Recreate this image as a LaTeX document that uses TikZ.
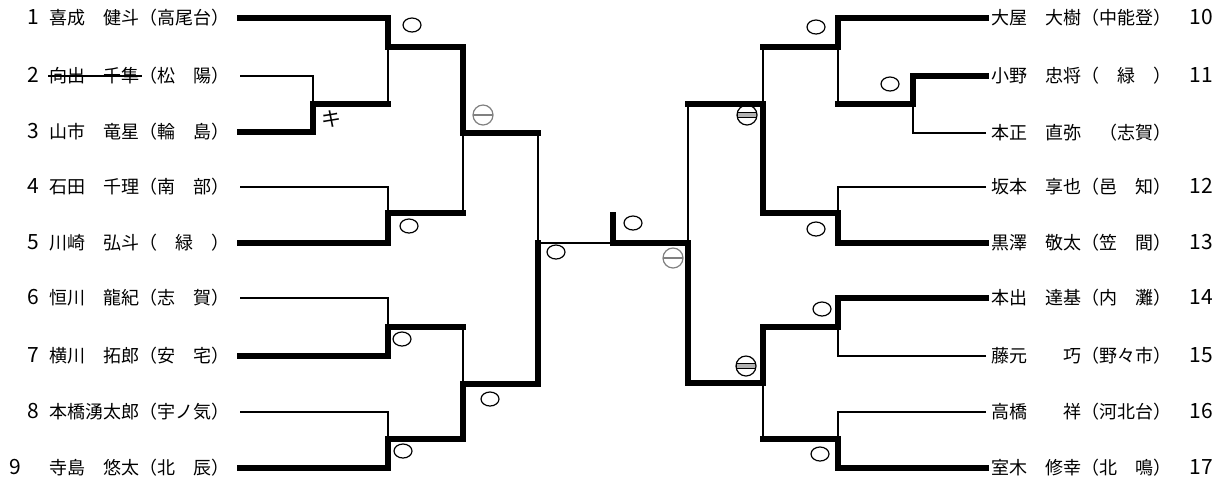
\documentclass[tikz,border=0pt]{standalone}
\usepackage{fontspec}
\setmainfont{Noto Sans CJK JP}
\usetikzlibrary{shapes.geometric}
\newcommand{\seedno}[1]{{\fontsize{10.5}{10}\selectfont #1}}

\begin{document}
\begin{tikzpicture}[x=0.5pt, y=-0.5pt,
    lname/.style={anchor=east, inner xsep=5pt, inner ysep=0pt, font=\fontsize{9}{10}\selectfont},
    rname/.style={anchor=west, inner xsep=2.5pt, inner ysep=0pt, font=\fontsize{9}{10}\selectfont},
    winner/.style={line width=3.2pt, line join=miter, line cap=rect},
    loser/.style={line width=0.8pt},
    maru/.style={draw, ellipse, line width=0.6pt, minimum width=9pt, minimum height=7pt, inner sep=0pt},
    half/.style={draw=gray, circle, line width=0.6pt, minimum size=10pt, inner sep=0pt,
      path picture={\draw[gray, line width=0.7pt] (path picture bounding box.west) -- (path picture bounding box.east);}},
    halfb/.style={draw, circle, line width=0.6pt, minimum size=10pt, inner sep=0pt,
      path picture={\draw[fill=gray!60, line width=0.5pt] ([yshift=1.1pt]path picture bounding box.west) rectangle ([yshift=-1.1pt]path picture bounding box.east);}}
  ]
    \useasboundingbox (0,0) rectangle (1219,479);

    % left block
    \node[lname] (p1) at (240,18) {\seedno{1}\hspace{5pt}喜成　健斗（高尾台）};
    \node[lname] (p2) at (240,76) {\seedno{2}\hspace{5pt}向出　千隼（松　陽）};
    \node[lname] (p3) at (240,132) {\seedno{3}\hspace{5pt}山市　竜星（輪　島）};
    \node[lname] (p4) at (240,187) {\seedno{4}\hspace{5pt}石田　千理（南　部）};
    \node[lname] (p5) at (240,243) {\seedno{5}\hspace{5pt}川崎　弘斗（　緑　）};
    \node[lname] (p6) at (240,298) {\seedno{6}\hspace{5pt}恒川　龍紀（志　賀）};
    \node[lname] (p7) at (240,356) {\seedno{7}\hspace{5pt}横川　拓郎（安　宅）};
    \node[lname] (p8) at (240,412) {\seedno{8}\hspace{5pt}本橋湧太郎（宇ノ気）};
    \node[lname] (p9) at (240,468) {\seedno{9}\hspace{14pt}寺島　悠太（北　辰）};
    \draw[line width=0.6pt] (48,76) -- (142,76);

    % right block
    \node[rname] (p10) at (986,18) {大屋　大樹（中能登）　\seedno{10}};
    \node[rname] (p11) at (986,76) {小野　忠将（　緑　）　\seedno{11}};
    \node[rname] (p0) at (986,133) {本正　直弥　（志賀）};
    \node[rname] (p12) at (986,187) {坂本　享也（邑　知）　\seedno{12}};
    \node[rname] (p13) at (986,243) {黒澤　敬太（笠　間）　\seedno{13}};
    \node[rname] (p14) at (986,298) {本出　達基（内　灘）　\seedno{14}};
    \node[rname] (p15) at (986,356) {藤元　　巧（野々市）　\seedno{15}};
    \node[rname] (p16) at (986,412) {高橋　　祥（河北台）　\seedno{16}};
    \node[rname] (p17) at (986,468) {室木　修幸（北　鳴）　\seedno{17}};

    % left bracket
    \draw[winner] (p1.east) -| (388,47) -| (463,133) -- (538,133);
    \draw[loser] (p2.east) -| (313,104);
    \draw[winner] (p3.east) -| (313,104) -- (388,104);
    \draw[loser] (388,47) -- (388,104);
    \draw[loser] (p4.east) -| (388,213);
    \draw[winner] (p5.east) -| (388,213) -- (463,213);
    \draw[loser] (463,133) -- (463,213);
    \draw[loser] (p6.east) -| (388,327);
    \draw[winner] (p7.east) -| (388,327) -- (463,327);
    \draw[loser] (463,327) -- (463,384);
    \draw[loser] (p8.east) -| (388,439);
    \draw[winner] (p9.east) -| (388,439) -| (463,384) -| (538,243);
    \draw[loser] (538,133) -- (538,243) -- (613,243);
    \draw[winner] (613,215) -- (613,243) -- (688,243);

    % right bracket
    \draw[winner] (p10.west) -| (838,47) -- (763,47);
    \draw[loser] (763,47) -- (763,104);
    \draw[loser] (838,47) -- (838,104);
    \draw[winner] (p11.west) -| (913,104) -- (838,104);
    \draw[loser] (p0.west) -| (913,104);
    \draw[loser] (p12.west) -| (838,213);
    \draw[winner] (p13.west) -| (838,213) -| (763,104) -- (688,104);
    \draw[loser] (688,104) -- (688,243);
    \draw[winner] (p14.west) -| (838,327) -| (763,383) -| (688,243);
    \draw[loser] (p15.west) -| (838,327);
    \draw[loser] (p16.west) -| (838,439);
    \draw[winner] (p17.west) -| (838,439) -- (763,439);
    \draw[loser] (763,383) -- (763,439);

    % marks
    \node[font=\fontsize{10}{10}\selectfont] (ki) at (331,119) {キ};
    \node[maru] (m1) at (412,25) {};
    \node[maru] (m2) at (409,226) {};
    \node[maru] (m3) at (402,339) {};
    \node[maru] (m4) at (403,451) {};
    \node[maru] (m5) at (490,399) {};
    \node[maru] (m6) at (556,252) {};
    \node[maru] (m7) at (633,223) {};
    \node[maru] (m8) at (816,27) {};
    \node[maru] (m9) at (890,84) {};
    \node[maru] (m10) at (816,229) {};
    \node[maru] (m11) at (822,309) {};
    \node[maru] (m12) at (820,454) {};
    \node[half] (h1) at (483,115) {};
    \node[half] (h2) at (673,258) {};
    \node[halfb] (h3) at (747,115) {};
    \node[halfb] (h4) at (746,366) {};
  \end{tikzpicture}
\end{document}
